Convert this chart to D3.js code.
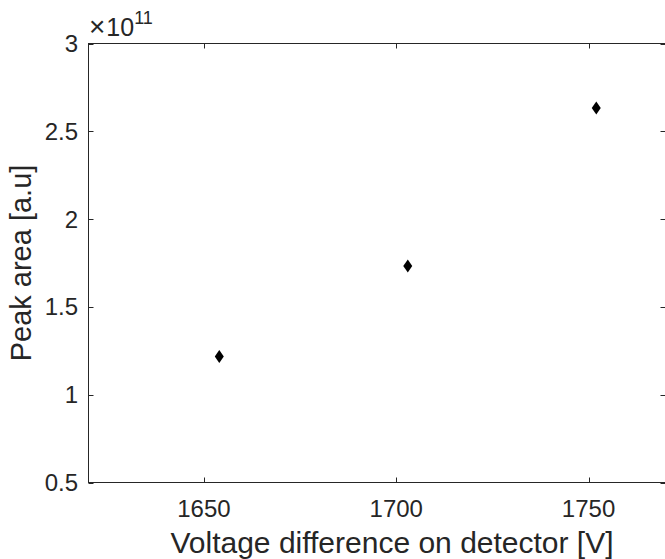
<!DOCTYPE html>
<html lang="en">
<head>
<meta charset="UTF-8">
<title>Peak area vs voltage</title>
<style>
    body { margin: 0; background: #fff; }
    svg text { font-family: "Liberation Sans", Arial, sans-serif; fill: #262626; }
</style>
<script src="https://d3js.org/d3.v7.min.js"></script>
</head>
<body>
<svg width="665" height="559"></svg>
<script>
    // data (peak area in units of 1e11)
    var voltages = [1654, 1703, 1752];
    var peakAreas = [1.218, 1.733, 2.633];
    var xTicks = [1650, 1700, 1750];
    var yTicks = [0.5, 1, 1.5, 2, 2.5, 3];

    var svg = d3.select("svg");
    var mLeft = 88.5, mRight = 665.5, mTop = 43.5, mBottom = 482.5;

    var x = d3.scaleLinear().domain([1620, 1770]).range([mLeft, mRight]);
    var y = d3.scaleLinear().domain([0.5, 3]).range([mBottom, mTop]);

    var axisColor = "#262626";

    // box
    svg.append("rect")
        .attr("x", mLeft).attr("y", mTop)
        .attr("width", mRight - mLeft).attr("height", mBottom - mTop)
        .attr("fill", "none").attr("stroke", axisColor).attr("stroke-width", 1);

    // ticks inward, all four sides
    var tl = 5;
    var g = svg.append("g").attr("stroke", axisColor);
    xTicks.forEach(function (t) {
        var px = Math.round(x(t)) + 0.5;
        g.append("line").attr("x1", px).attr("x2", px).attr("y1", mBottom).attr("y2", mBottom - tl);
        g.append("line").attr("x1", px).attr("x2", px).attr("y1", mTop).attr("y2", mTop + tl);
    });
    yTicks.forEach(function (t) {
        var py = Math.round(y(t)) + 0.5;
        g.append("line").attr("x1", mLeft).attr("x2", mLeft + tl).attr("y1", py).attr("y2", py);
        g.append("line").attr("x1", mRight).attr("x2", mRight - tl).attr("y1", py).attr("y2", py);
    });

    // tick labels
    svg.selectAll(".xl").data(xTicks).enter().append("text")
        .attr("x", function (d) { return x(d); })
        .attr("y", 517)
        .attr("text-anchor", "middle")
        .style("font-size", "24px")
        .text(function (d) { return d; });

    svg.selectAll(".yl").data(yTicks).enter().append("text")
        .attr("x", 78)
        .attr("y", function (d) { return y(d) + 8.5; })
        .attr("text-anchor", "end")
        .style("font-size", "24px")
        .text(function (d) { return d; });

    // exponent
    var ex = svg.append("text").attr("x", 89).attr("y", 36).style("font-size", "25px");
    ex.append("tspan").style("font-size", "28px").style("font-weight", "300").text("\u00d7");
    ex.append("tspan").attr("dx", 1).text("10");
    ex.append("tspan").attr("dy", -12).style("font-size", "18px").text("11");

    // axis labels
    svg.append("text")
        .attr("x", 392)
        .attr("y", 553)
        .attr("text-anchor", "middle")
        .style("font-size", "30px")
        .text("Voltage difference on detector [V]");

    svg.append("text")
        .attr("transform", "translate(31," + ((mTop + mBottom) / 2) + ") rotate(-90)")
        .attr("text-anchor", "middle")
        .style("font-size", "29px")
        .text("Peak area [a.u]");

    // diamond markers
    var pts = voltages.map(function (v, i) { return [v, peakAreas[i]]; });
    svg.selectAll(".pt").data(pts).enter().append("path")
        .attr("d", "M0,-6.5L4.5,0L0,6.5L-4.5,0Z")
        .attr("transform", function (d) { return "translate(" + x(d[0]) + "," + y(d[1]) + ")"; })
        .attr("fill", "#000");
</script>
</body>
</html>
